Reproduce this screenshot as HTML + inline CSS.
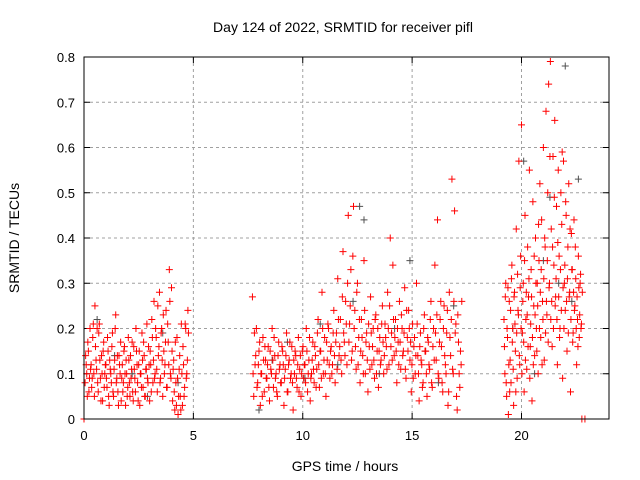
<!DOCTYPE html>
<html><head><meta charset="utf-8"><style>
body{margin:0;background:#fff}
svg{display:block;font-family:"Liberation Sans",sans-serif}
</style></head><body>
<svg id="chart" width="640" height="480">
<text x="343" y="32" font-size="14" text-anchor="middle">Day 124 of 2022, SRMTID for receiver pifl</text>
<text x="345" y="471" font-size="14" text-anchor="middle">GPS time / hours</text>
<text transform="translate(19,238) rotate(-90)" font-size="14" text-anchor="middle">SRMTID / TECUs</text>
</svg>
<script>
const xTicks=[0,5,10,15,20];
const yTicks=[0,0.1,0.2,0.3,0.4,0.5,0.6,0.7,0.8];
const segStart=[0.05,7.7,19.2];
const segStep=[0.05,0.06,0.04];
const seg1=[0.08,0.12,0.05,0.15,0.09,0.11,0.07,0.18,0.1,0.25,0.13,0.2,0.06,0.21,0.09,0.14,0.04,0.17,0.1,0.12,
0.07,0.15,0.03,0.11,0.08,0.19,0.05,0.13,0.23,0.09,0.06,0.14,0.1,0.04,0.12,0.08,0.16,0.03,0.1,0.07,
0.13,0.05,0.09,0.17,0.04,0.11,0.06,0.15,0.08,0.12,0.03,0.1,0.19,0.07,0.14,0.05,0.11,0.09,0.16,0.04,
0.12,0.22,0.08,0.26,0.1,0.18,0.06,0.14,0.28,0.09,0.2,0.05,0.15,0.12,0.24,0.07,0.17,0.33,0.1,0.29,
0.04,0.13,0.02,0.08,0.18,0.01,0.11,0.05,0.21,0.03,0.12,0.07,0.2,0.1,0.24];
const seg1b=[0.14,0.1,0.17,0.06,0.2,0.12,0.09,0.21,0.05,0.16,0.11,0.08,0.19,0.13,0.04,0.1,0.15,0.07,0.12,0.09,
0.18,0.05,0.13,0.1,0.16,0.06,0.11,0.2,0.08,0.14,0.03,0.12,0.17,0.09,0.06,0.15,0.1,0.13,0.05,0.18,
0.08,0.14,0.11,0.06,0.16,0.09,0.2,0.12,0.04,0.15,0.1,0.07,0.13,0.17,0.05,0.11,0.21,0.08,0.12,0.15,
0.06,0.18,0.13,0.09,0.2,0.11,0.25,0.16,0.08,0.19,0.13,0.23,0.1,0.17,0.07,0.21,0.12,0.26,0.09,0.15,
0.11,0.06,0.17,0.03,0.09,0.05,0.14,0.02,0.1,0.16,0.05,0.21,0.09,0.13,0.19];
const seg2=[0.27,0.05,0.12,0.2,0.08,0.15,0.03,0.1,0.18,0.06,0.13,0.09,0.16,0.04,0.11,0.2,0.07,0.14,0.1,0.05,
0.17,0.12,0.08,0.15,0.03,0.11,0.19,0.06,0.13,0.09,0.16,0.02,0.1,0.14,0.07,0.18,0.11,0.05,0.15,0.09,
0.12,0.2,0.06,0.13,0.04,0.1,0.17,0.08,0.14,0.11,0.22,0.07,0.15,0.28,0.1,0.18,0.05,0.13,0.2,0.09,
0.16,0.12,0.24,0.08,0.19,0.31,0.14,0.22,0.1,0.37,0.17,0.26,0.12,0.45,0.21,0.33,0.15,0.47,0.24,0.11,
0.3,0.18,0.08,0.22,0.14,0.35,0.1,0.19,0.06,0.16,0.27,0.12,0.2,0.09,0.23,0.15,0.07,0.18,0.13,0.25,
0.1,0.21,0.16,0.28,0.12,0.4,0.19,0.34,0.14,0.22,0.08,0.17,0.26,0.11,0.2,0.15,0.29,0.09,0.18,0.24,
0.13,0.06,0.21,0.16,0.1,0.3,0.14,0.04,0.19,0.12,0.08,0.23,0.15,0.05,0.17,0.11,0.26,0.07,0.2,0.34,
0.13,0.44,0.09,0.22,0.16,0.06,0.25,0.12,0.19,0.03,0.28,0.14,0.53,0.1,0.46,0.21,0.02,0.17,0.07,0.12];
const seg2b=[0.1,0.19,0.14,0.07,0.12,0.17,0.1,0.05,0.13,0.16,0.09,0.12,0.07,0.15,0.1,0.13,0.18,0.09,0.06,0.14,
0.11,0.08,0.16,0.12,0.09,0.14,0.06,0.12,0.17,0.1,0.08,0.13,0.15,0.09,0.12,0.06,0.14,0.1,0.16,0.12,
0.08,0.15,0.1,0.18,0.09,0.13,0.11,0.16,0.07,0.19,0.12,0.15,0.09,0.2,0.13,0.1,0.17,0.21,0.12,0.15,
0.1,0.19,0.14,0.17,0.11,0.22,0.16,0.13,0.27,0.19,0.14,0.21,0.3,0.17,0.25,0.13,0.36,0.2,0.16,0.28,
0.12,0.22,0.15,0.18,0.1,0.24,0.17,0.13,0.21,0.11,0.19,0.16,0.13,0.22,0.1,0.2,0.15,0.12,0.21,0.17,
0.14,0.18,0.11,0.2,0.25,0.16,0.13,0.22,0.18,0.15,0.2,0.12,0.17,0.23,0.14,0.19,0.11,0.24,0.15,0.2,
0.17,0.12,0.09,0.18,0.14,0.21,0.1,0.16,0.13,0.07,0.2,0.15,0.1,0.18,0.12,0.22,0.08,0.16,0.13,0.19,
0.23,0.1,0.17,0.26,0.08,0.2,0.14,0.1,0.24,0.06,0.18,0.22,0.11,0.26,0.19,0.05,0.23,0.1,0.15,0.26];
const seg3=[0.22,0.1,0.3,0.05,0.18,0.01,0.26,0.13,0.08,0.34,0.2,0.03,0.28,0.15,0.42,0.09,0.24,0.57,0.12,0.36,
0.65,0.19,0.3,0.06,0.45,0.22,0.11,0.38,0.27,0.55,0.16,0.33,0.04,0.48,0.25,0.14,0.4,0.2,0.3,0.1,
0.35,0.52,0.18,0.44,0.26,0.6,0.13,0.38,0.68,0.23,0.5,0.74,0.3,0.79,0.42,0.16,0.58,0.34,0.66,0.27,
0.47,0.12,0.55,0.36,0.2,0.5,0.43,0.09,0.57,0.3,0.24,0.45,0.15,0.38,0.52,0.28,0.06,0.41,0.33,0.19,
0.44,0.25,0.31,0.12,0.22,0.36,0.18,0.3,0.2,0.0];
const seg3b=[0.16,0.27,0.08,0.2,0.29,0.12,0.06,0.24,0.31,0.17,0.11,0.27,0.21,0.06,0.19,0.32,0.23,0.14,0.29,0.2,
0.1,0.26,0.17,0.35,0.13,0.28,0.23,0.16,0.31,0.09,0.21,0.27,0.18,0.12,0.36,0.23,0.3,0.15,0.25,0.43,
0.2,0.28,0.33,0.12,0.22,0.31,0.4,0.19,0.26,0.35,0.17,0.29,0.58,0.22,0.26,0.38,0.2,0.49,0.25,0.31,
0.22,0.39,0.27,0.18,0.33,0.24,0.59,0.29,0.2,0.34,0.48,0.26,0.31,0.19,0.27,0.42,0.22,0.33,0.17,0.28,
0.24,0.38,0.2,0.27,0.16,0.29,0.23,0.32,0.21,0.28];
const grayT=[0.6,1.4,2.2,2.9,3.6,4.3,8.0,8.6,9.3,10.1,10.8,11.6,12.3,12.6,12.8,13.5,14.2,14.9,15.6,16.2,16.9,19.6,20.1,20.6,21.0,21.3,21.7,22.0,22.3,22.6];
const grayV=[0.22,0.14,0.1,0.05,0.19,0.08,0.02,0.13,0.17,0.09,0.21,0.12,0.26,0.47,0.44,0.1,0.2,0.35,0.15,0.08,0.25,0.2,0.57,0.1,0.35,0.49,0.3,0.78,0.26,0.53];
const extraT=[0.0,22.9];
const extraV=[0.0,0.0];

const L=84,R=609,T=57,B=419,xMax=24,yMax=0.8;
const sx=v=>L+(R-L)*v/xMax, sy=v=>B-(B-T)*v/yMax;
const NS="http://www.w3.org/2000/svg", svg=document.getElementById('chart');
function mk(tag,attrs,parent){const e=document.createElementNS(NS,tag);for(const k in attrs)e.setAttribute(k,attrs[k]);(parent||svg).appendChild(e);return e;}

const grid=mk('g',{stroke:'#a0a0a0','stroke-dasharray':'3,3','stroke-width':1});


xTicks.forEach(t=>{if(t>0)mk('line',{x1:sx(t),x2:sx(t),y1:T,y2:B},grid);});
yTicks.forEach(t=>{if(t>0&&t<yMax)mk('line',{x1:L,x2:R,y1:sy(t),y2:sy(t)},grid);});

const ticks=mk('g',{stroke:'#000','stroke-width':1});
xTicks.forEach(t=>{mk('line',{x1:sx(t),x2:sx(t),y1:B,y2:B-6},ticks);mk('line',{x1:sx(t),x2:sx(t),y1:T,y2:T+6},ticks);
 const tx=mk('text',{x:sx(t),y:B+21,'font-size':13,'text-anchor':'middle',stroke:'none'});tx.textContent=t;
 
 });
yTicks.forEach(t=>{mk('line',{x1:L,x2:L+6,y1:sy(t),y2:sy(t)},ticks);mk('line',{x1:R,x2:R-6,y1:sy(t),y2:sy(t)},ticks);
 const tx=mk('text',{x:L-9,y:sy(t)+5,'font-size':13,'text-anchor':'end',stroke:'none'});tx.textContent=t===0?'0':t.toFixed(1);
 
 });

function plus(g,t,v){const x=sx(t),y=sy(v);mk('path',{d:`M${x-3.5},${y}H${x+3.5}M${x},${y-3.5}V${y+3.5}`},g);}
const gg=mk('g',{stroke:'#505050','stroke-width':1,fill:'none'});


grayT.forEach((t,i)=>plus(gg,t,grayV[i]));
const rg=mk('g',{stroke:'#ff0000','stroke-width':1,fill:'none'});


[seg1,seg2,seg3].forEach((s,k)=>s.forEach((v,i)=>plus(rg,segStart[k]+i*segStep[k],v)));
[seg1b,seg2b,seg3b].forEach((s,k)=>s.forEach((v,i)=>plus(rg,segStart[k]+(i+0.5)*segStep[k],v)));
extraT.forEach((t,i)=>plus(rg,t,extraV[i]));

const frame=mk('rect',{x:L,y:T,width:R-L,height:B-T,fill:'none',stroke:'#000','stroke-width':1});


</script>
</body></html>
